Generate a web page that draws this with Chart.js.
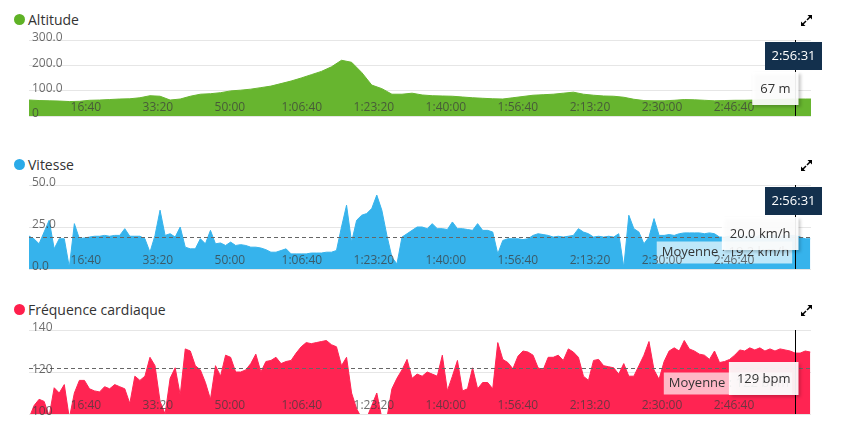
<!DOCTYPE html>
<html>
<head>
<meta charset="utf-8">
<script src="https://cdn.jsdelivr.net/npm/chart.js@4.4.1/dist/chart.umd.min.js"></script>
<style>
  body { margin: 0; background: #fff; width: 841px; height: 432px; position: relative; overflow: hidden; font-family: "Open Sans", sans-serif; }
  .box { position: absolute; left: 0; width: 841px; }
  .title { position: absolute; left: 28px; font-size: 14px; line-height: 20px; color: #333; white-space: nowrap; }
  .dot { position: absolute; left: -14px; top: 4px; width: 11px; height: 11px; border-radius: 50%; }
  .expand { position: absolute; left: 800px; }
</style>
</head>
<body>

<div class="title" style="top:10px"><span class="dot" style="background:#5fb226"></span>Altitude</div>
<svg class="expand" style="top:14px" width="13" height="13" viewBox="0 0 13 13"><path d="M7.5 1H12V5.5Z M1 7.5V12H5.5Z" fill="#000"/><path d="M10.5 2.5L7 6M2.5 10.5L6 7" stroke="#000" stroke-width="1.5"/></svg>
<div class="box" style="top:30px;height:92px"><canvas id="altitude-chart" width="841" height="92"></canvas></div>

<div class="title" style="top:155px"><span class="dot" style="background:#2aaae8"></span>Vitesse</div>
<svg class="expand" style="top:159px" width="13" height="13" viewBox="0 0 13 13"><path d="M7.5 1H12V5.5Z M1 7.5V12H5.5Z" fill="#000"/><path d="M10.5 2.5L7 6M2.5 10.5L6 7" stroke="#000" stroke-width="1.5"/></svg>
<div class="box" style="top:175px;height:100px"><canvas id="speed-chart" width="841" height="100"></canvas></div>

<div class="title" style="top:300px"><span class="dot" style="background:#ff1f4c"></span>Fréquence cardiaque</div>
<svg class="expand" style="top:304px" width="13" height="13" viewBox="0 0 13 13"><path d="M7.5 1H12V5.5Z M1 7.5V12H5.5Z" fill="#000"/><path d="M10.5 2.5L7 6M2.5 10.5L6 7" stroke="#000" stroke-width="1.5"/></svg>
<div class="box" style="top:320px;height:100px"><canvas id="heart-chart" width="841" height="100"></canvas></div>

<script>
// time axis (seconds)
var X_MIN = 210, X_MAX = 11070;
var timeTicks = [1000, 2000, 3000, 4000, 5000, 6000, 7000, 8000, 9000, 10000];
var timeTickLabels = ['16:40', '33:20', '50:00', '1:06:40', '1:23:20', '1:40:00', '1:56:40', '2:13:20', '2:30:00', '2:46:40'];

// samples: altitude every 140 s, speed & heart rate every 70 s, from X_MIN
var ALT_STEP = 140, STEP = 70;

var altitude = [63, 61, 60, 59, 57, 58, 62, 63, 65, 67,
    68, 72, 80, 78, 63, 67, 78, 86, 88, 92,
    99, 102, 106, 112, 118, 128, 138, 150, 163, 176,
    194, 220, 212, 172, 122, 108, 86, 86, 90, 83,
    80, 79, 78, 75, 72, 70, 68, 67, 72, 77,
    82, 84, 86, 90, 94, 86, 82, 79, 78, 74,
    66, 61, 60, 60, 62, 65, 64, 62, 60, 61,
    62, 62, 63, 64, 65, 66, 67, 67, 67];

var speed = [19.6, 17.9, 15, 22, 29, 12, 18, 18, 1, 27,
    18, 18.5, 19, 19.5, 19.5, 20, 19.5, 20, 20, 24,
    19.5, 19.5, 19.5, 18, 10, 20, 35, 20, 21, 19,
    25, 13, 12, 12, 18, 15, 23, 15, 15.5, 14,
    16, 14, 14.5, 14, 13, 13, 12.5, 11.5, 10, 10,
    11, 12, 9, 9, 9, 9, 9.5, 9.5, 9.5, 10,
    10, 11, 25, 38, 16, 29, 32, 33, 36, 44,
    35, 20, 7, 3, 19, 21, 23, 25, 25, 24,
    27, 24, 24, 23.5, 28, 24, 24, 23.5, 23, 27,
    23, 23, 22, 9, 17, 18, 18, 18, 17.5, 18,
    20, 21, 20.5, 20, 19, 19.5, 19, 19.5, 20, 24,
    22, 21, 19, 19.5, 19, 19.5, 19, 21, 1, 32,
    24, 22, 15, 19, 30, 20, 20, 20.5, 20, 21,
    21.5, 21.5, 21.5, 21.5, 21, 21.5, 21, 19, 19, 19.5,
    19, 20, 19.5, 20, 19, 20, 19.5, 20, 20, 19.5,
    20, 20, 20, 19, 18, 18];

var heartRate = [98, 104, 107, 106, 99, 112.5, 110, 114, 98, 110,
    116, 116, 112, 111, 110.5, 113, 112, 114, 113, 112,
    105, 118, 116, 118, 127, 123, 106, 100, 117, 122,
    109, 131, 130, 123, 121, 115, 107, 123, 118, 128,
    127, 120, 120, 121, 124, 128.5, 120, 125, 125.5, 127,
    124, 125, 125.5, 129, 132, 134, 133.5, 134, 134.5, 135,
    133, 132, 123, 127, 110, 102.5, 98, 98, 104, 110,
    98, 98, 112, 117, 121, 126, 117, 119, 118, 120,
    119, 118, 128, 111, 118, 125.5, 111, 112, 122, 112,
    115, 115, 112, 134, 126, 124.5, 121.5, 127.5, 130, 129.5,
    128, 122, 121, 127, 127, 128, 125.5, 131, 129.5, 127,
    118, 116, 125.5, 126, 123, 122.5, 122, 119, 124, 118,
    118, 123, 128, 134.5, 121, 116.5, 125, 130, 131.5, 130,
    135, 131, 130, 128.5, 128, 126, 130, 124.5, 125, 126,
    128, 130.5, 130, 131.5, 130.5, 131.5, 130, 131, 130, 131,
    130.5, 130, 129, 129, 130, 129.5];

var speedMean = 19.2;
var heartMean = 122;

// hovered sample
var cursorTime = 10850;
var cursorLabel = '2:56:31';

var altTicks = [0, 100, 200, 300], altTickLabels = ['0', '100.0', '200.0', '300.0'];
var speedTicks = [0, 25, 50], speedTickLabels = ['0.0', '25.0', '50.0'];
var heartTicks = [100, 120, 140], heartTickLabels = ['100', '120', '140'];

Chart.defaults.font.family = '"Open Sans", sans-serif';

function valueAt(times, values, t) {
    return values[times.indexOf(t)];
}

var cursorPlugin = {
    id: 'cursor',
    afterDatasetsDraw: function(chart, args, o) {
        if (o.mean == null) return;
        var ctx = chart.ctx, a = chart.chartArea;
        var cx = chart.scales.x.getPixelForValue(o.at);
        var my = Math.round(chart.scales.y.getPixelForValue(o.mean)) + 0.5;
        ctx.save();
        ctx.strokeStyle = '#666';
        ctx.lineWidth = 1;
        ctx.setLineDash([4, 3]);
        ctx.beginPath();
        ctx.moveTo(a.left, my);
        ctx.lineTo(a.right, my);
        ctx.stroke();
        ctx.setLineDash([]);
        ctx.font = '13px "Open Sans"';
        var w = ctx.measureText(o.meanText).width + 8;
        ctx.fillStyle = o.meanBg;
        ctx.fillRect(cx - 3 - w, my + 4, w, 22);
        ctx.fillStyle = '#333';
        ctx.textBaseline = 'middle';
        ctx.fillText(o.meanText, cx - 3 - w + 5, my + 15);
        ctx.restore();
    },
    afterDraw: function(chart, args, o) {
        var ctx = chart.ctx, a = chart.chartArea;
        var cx = Math.round(chart.scales.x.getPixelForValue(o.at)) + 0.5;
        ctx.save();
        ctx.strokeStyle = '#000';
        ctx.lineWidth = 1;
        ctx.beginPath();
        ctx.moveTo(cx, a.top);
        ctx.lineTo(cx, a.bottom);
        ctx.stroke();

        ctx.font = '13px "Open Sans"';
        ctx.textBaseline = 'middle';
        ctx.textAlign = 'center';
        // value tooltip
        var tw = ctx.measureText(o.valueText).width + 16;
        var bx = cx + 3 - tw, by = a.top + 32, bh = 33;
        ctx.shadowColor = 'rgba(0,0,0,0.22)';
        ctx.shadowOffsetX = 2;
        ctx.shadowOffsetY = 2;
        ctx.shadowBlur = 3;
        ctx.fillStyle = 'rgba(255,255,255,0.92)';
        ctx.fillRect(bx, by, tw, bh);
        ctx.shadowColor = 'transparent';
        ctx.fillStyle = '#333';
        ctx.fillText(o.valueText, bx + tw / 2, by + bh / 2 + 1);

        // time label on top
        if (o.timeLabel) {
            var w2 = ctx.measureText(o.timeLabel).width + 13;
            ctx.fillStyle = '#13304d';
            ctx.fillRect(cx - 2 - w2 / 2, a.top + 2, w2, 28);
            ctx.fillStyle = '#fff';
            ctx.fillText(o.timeLabel, cx - 2, a.top + 16.5);
        }
        ctx.restore();
    }
};

// axes take no room: labels are drawn inside the plot
function flatX(s) { s.height = 0; s.paddingLeft = 0; s.paddingRight = 0; }
function flatY(s) { s.width = 0; s.paddingTop = 0; s.paddingBottom = 0; }

function makeChart(id, cfg) {
    var tickFont = { size: 12 };
    var tickColor = 'rgba(60,60,60,0.75)';
    return new Chart(document.getElementById(id), {
        type: 'line',
        data: {
            datasets: [{
                data: cfg.times.map(function(t, i) { return { x: t, y: cfg.values[i] }; }),
                backgroundColor: cfg.color,
                borderColor: cfg.color,
                borderWidth: 1,
                pointRadius: 0,
                fill: 'start',
                tension: 0
            }]
        },
        options: {
            responsive: false,
            animation: false,
            events: [],
            layout: { padding: { left: 29, right: 30, top: 10, bottom: 6 } },
            plugins: {
                legend: { display: false },
                tooltip: { enabled: false },
                cursor: cfg.cursor
            },
            scales: {
                x: {
                    type: 'linear', min: X_MIN, max: X_MAX,
                    grid: { display: false },
                    border: { display: false },
                    afterBuildTicks: function(s) { s.ticks = timeTicks.map(function(v) { return { value: v }; }); },
                    afterFit: flatX,
                    ticks: {
                        z: 1, mirror: true, padding: 1, autoSkip: false, maxRotation: 0, minRotation: 0,
                        color: tickColor, font: tickFont,
                        callback: function(v, i) { return timeTickLabels[i]; }
                    }
                },
                y: {
                    min: cfg.yTicks[0], max: cfg.yTicks[cfg.yTicks.length - 1],
                    grid: { color: '#e6e6e6', drawTicks: false },
                    border: { display: false },
                    afterBuildTicks: function(s) { s.ticks = cfg.yTicks.map(function(v) { return { value: v }; }); },
                    afterFit: flatY,
                    ticks: {
                        z: 1, mirror: true, padding: 3, labelOffset: -2,
                        color: tickColor, font: tickFont,
                        callback: function(v, i) { return cfg.yLabels[i]; }
                    }
                }
            }
        },
        plugins: [cursorPlugin]
    });
}

var altTimes = altitude.map(function(_, i) { return X_MIN + i * ALT_STEP; });
var times = speed.map(function(_, i) { return X_MIN + i * STEP; });

makeChart('altitude-chart', {
    times: altTimes, values: altitude, color: '#67b52f',
    yTicks: altTicks, yLabels: altTickLabels,
    cursor: { at: cursorTime, timeLabel: cursorLabel, valueText: valueAt(altTimes, altitude, cursorTime) + ' m' }
});

makeChart('speed-chart', {
    times: times, values: speed, color: '#36b3ec',
    yTicks: speedTicks, yLabels: speedTickLabels,
    cursor: {
        at: cursorTime, timeLabel: cursorLabel,
        valueText: valueAt(times, speed, cursorTime).toFixed(1) + ' km/h',
        mean: speedMean, meanText: 'Moyenne : ' + speedMean.toFixed(1) + ' km/h', meanBg: 'rgba(255,255,255,0.68)'
    }
});

makeChart('heart-chart', {
    times: times, values: heartRate, color: '#ff2452',
    yTicks: heartTicks, yLabels: heartTickLabels,
    cursor: {
        at: cursorTime, timeLabel: null,
        valueText: valueAt(times, heartRate, cursorTime) + ' bpm',
        mean: heartMean, meanText: 'Moyenne : ' + heartMean + ' bpm', meanBg: 'rgba(255,255,255,0.68)'
    }
});
</script>
</body>
</html>
